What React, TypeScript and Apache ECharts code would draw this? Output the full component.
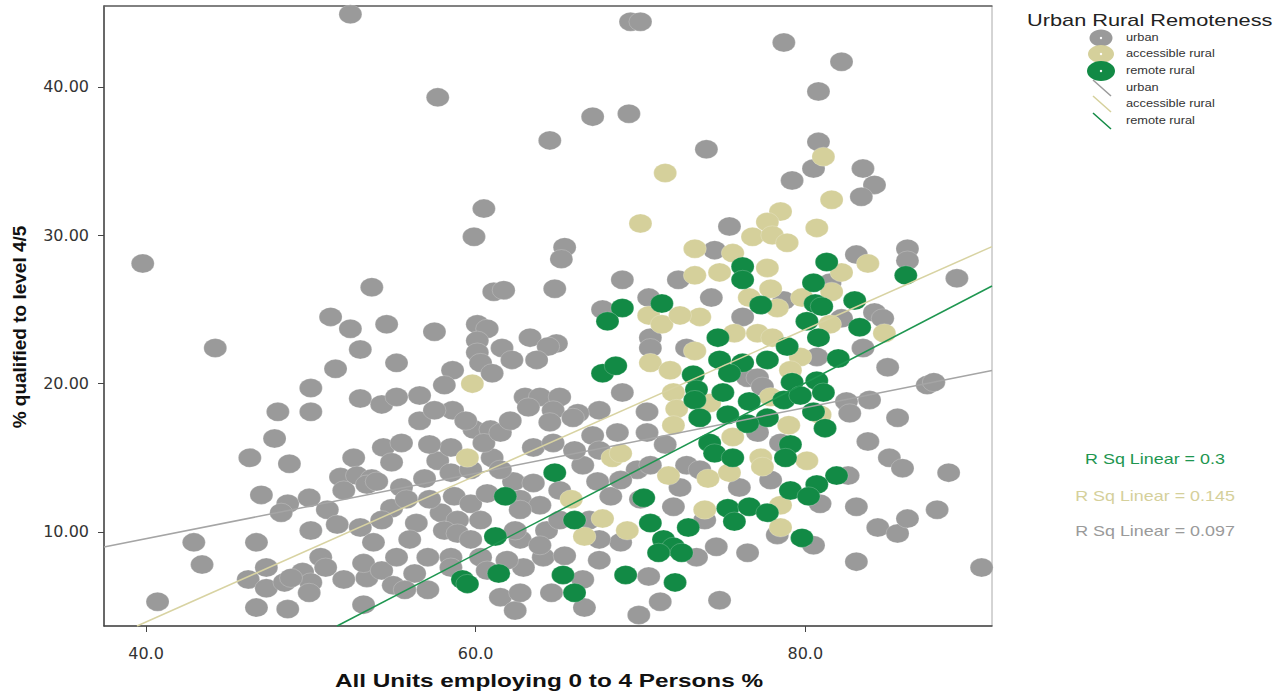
import React, { useEffect, useRef } from "react";
import * as echarts from "echarts";

const urban: number[][] = [
  [52.4, 44.9], [69.4, 44.4], [70.0, 44.4], [78.7, 43.0], [82.2, 41.7], [80.8, 39.7], [57.7, 39.3], [69.3, 38.2],
  [67.1, 38.0], [64.5, 36.4], [74.0, 35.8], [80.8, 36.3], [80.5, 34.5], [79.2, 33.7], [83.5, 34.5], [84.2, 33.4],
  [83.4, 32.6], [60.5, 31.8], [59.9, 29.9], [65.4, 29.2], [65.2, 28.4], [39.8, 28.1], [53.7, 26.5], [64.8, 26.4],
  [61.1, 26.2], [61.7, 26.3], [68.9, 27.0], [72.3, 27.0], [70.5, 25.8], [67.7, 25.0], [51.2, 24.5], [52.4, 23.7],
  [54.6, 24.0], [57.5, 23.5], [60.1, 24.0], [60.7, 23.7], [60.1, 22.9], [63.3, 23.1], [64.9, 22.7], [64.4, 22.5],
  [61.6, 22.4], [62.2, 21.6], [60.1, 22.1], [60.3, 21.4], [63.7, 21.6], [58.6, 20.9], [61.0, 20.7], [44.2, 22.4],
  [53.0, 22.3], [51.5, 21.0], [55.2, 21.4], [50.0, 19.7], [53.0, 19.0], [54.3, 18.6], [55.2, 19.1], [70.6, 23.1],
  [70.6, 22.4], [72.8, 22.4], [68.9, 19.4], [67.5, 18.2], [70.4, 18.1], [58.6, 18.2], [63.0, 19.1], [63.9, 19.1],
  [65.1, 19.1], [63.2, 18.4], [64.7, 18.2], [66.2, 18.0],
  [75.4, 30.6], [74.5, 29.0], [86.2, 29.1], [86.2, 28.3], [83.1, 28.7], [89.2, 27.1], [81.5, 26.8], [74.3, 25.8],
  [78.7, 25.6], [84.2, 24.8], [84.7, 24.4], [76.2, 24.5], [82.2, 24.4], [83.5, 22.4], [80.7, 21.8], [85.0, 21.1],
  [76.5, 20.4], [77.1, 20.4], [77.4, 19.8], [87.4, 19.9], [87.8, 20.1], [83.9, 18.9], [82.5, 18.8], [85.6, 17.7],
  [82.7, 18.0],
  [48.0, 18.1], [50.0, 18.1], [47.8, 16.3], [46.3, 15.0], [48.7, 14.6], [52.6, 15.0], [54.4, 15.7], [55.5, 16.0],
  [54.9, 14.7], [59.9, 16.9], [60.9, 16.9], [57.7, 14.8], [58.5, 15.7], [58.5, 14.0], [61.0, 15.0], [60.5, 16.0],
  [51.8, 13.7], [52.8, 13.8], [53.7, 13.6], [52.0, 12.8], [53.4, 13.2], [54.0, 13.4], [56.9, 13.6], [55.5, 13.0],
  [47.0, 12.5], [48.6, 11.9], [49.9, 12.3], [48.2, 11.3], [51.0, 11.5], [54.9, 11.6], [55.8, 12.2], [58.7, 12.4],
  [59.7, 11.9], [60.7, 12.6], [57.9, 11.3], [58.9, 10.8], [50.0, 10.1], [51.6, 10.5], [53.0, 10.3], [54.3, 10.8],
  [56.4, 10.6], [58.1, 10.1], [58.9, 9.9], [42.9, 9.3], [46.7, 9.3], [53.8, 9.3], [43.4, 7.8], [47.3, 7.6],
  [50.6, 8.3], [50.9, 7.6], [49.5, 7.3], [50.0, 6.6], [49.9, 5.9], [46.2, 6.8], [47.3, 6.2], [48.4, 6.6],
  [48.8, 6.9], [52.0, 6.8], [53.4, 6.9], [53.2, 7.9], [54.3, 7.4], [55.2, 8.3], [56.3, 7.2], [57.1, 8.3],
  [55.0, 6.4], [55.7, 6.1], [57.1, 6.1], [58.5, 8.3], [58.5, 7.6], [60.3, 8.3], [60.7, 7.4], [61.5, 5.6],
  [40.7, 5.3], [46.7, 4.9], [48.6, 4.8], [53.2, 5.1],
  [64.5, 17.4], [65.9, 17.7], [77.1, 16.7], [83.8, 16.1], [67.1, 16.5], [68.6, 16.7], [70.4, 16.7], [61.5, 16.7],
  [63.5, 15.7], [64.7, 16.0], [78.5, 16.0], [85.1, 15.0], [85.9, 14.3], [88.7, 14.0], [82.6, 13.8], [66.5, 14.5],
  [62.3, 13.4], [63.5, 13.3], [69.8, 14.2], [70.6, 14.5], [72.8, 14.5], [67.4, 13.4], [72.4, 13.0], [76.0, 13.0],
  [68.2, 12.4], [83.1, 11.7], [88.0, 11.5], [80.9, 11.9], [72.0, 11.7], [84.4, 10.3], [85.6, 9.9], [86.2, 10.9],
  [64.3, 10.1], [68.8, 9.3], [73.4, 8.3], [74.6, 9.0], [76.5, 8.6], [78.3, 9.8], [80.5, 9.1], [83.1, 8.0],
  [90.7, 7.6], [66.5, 6.8], [66.6, 4.9], [64.6, 5.9], [62.4, 4.7], [70.5, 7.0], [71.2, 5.3], [74.8, 5.4],
  [69.9, 4.4], [62.7, 5.9], [62.9, 7.6], [64.1, 8.3], [61.9, 8.1],
  [56.6, 17.5], [59.4, 17.5], [62.1, 17.5], [57.2, 15.9], [59.7, 14.2], [61.5, 14.2], [62.7, 12.2], [63.9, 11.8],
  [57.2, 12.2], [59.7, 9.5], [62.7, 9.5], [56.0, 9.5], [60.3, 10.8], [65.1, 10.8], [65.4, 8.4], [66.9, 10.8],
  [67.5, 9.5], [65.1, 12.8], [66.0, 15.5], [68.8, 13.5], [70.0, 12.2], [71.5, 15.9], [67.5, 8.1], [62.7, 11.5],
  [62.4, 10.1], [63.9, 9.1], [57.5, 18.2], [56.6, 19.2], [58.1, 19.9], [67.5, 15.5], [73.9, 10.8], [77.9, 13.5],
  [73.6, 14.2],
];

const accessibleRural: number[][] = [
  [59.5, 15.0], [59.8, 20.0], [70.0, 30.8], [71.5, 34.2], [81.1, 35.3], [81.6, 32.4], [78.5, 31.6], [77.7, 30.9],
  [80.7, 30.5], [76.8, 29.9], [78.0, 30.0], [78.9, 29.5], [73.3, 29.1], [75.6, 28.8], [83.8, 28.1], [82.2, 27.5],
  [77.7, 27.8], [73.3, 27.3], [74.8, 27.5], [77.9, 26.4], [81.6, 26.2], [78.3, 25.1], [79.8, 25.8], [76.6, 25.8],
  [73.6, 24.5], [81.5, 24.0], [84.8, 23.4], [75.7, 23.4], [77.1, 23.4], [78.0, 23.1], [73.3, 22.2], [79.7, 21.8],
  [79.1, 20.9], [74.2, 18.7], [77.9, 19.1], [70.5, 24.6], [71.3, 24.0], [72.4, 24.6], [70.6, 21.4], [71.8, 20.9],
  [72.0, 19.4], [72.2, 18.3], [72.0, 17.2], [80.9, 17.9], [79.0, 17.2], [75.6, 16.4], [68.3, 15.0], [68.8, 15.3],
  [80.1, 14.8], [77.3, 15.0], [77.4, 14.4], [71.7, 13.8], [74.1, 13.6], [75.4, 14.0], [65.8, 12.2], [78.5, 11.8],
  [73.9, 11.5], [67.7, 10.9], [78.5, 10.3], [69.2, 10.1], [66.6, 9.7],
];

const remoteRural: number[][] = [
  [71.3, 25.4], [68.9, 25.1], [68.0, 24.2], [67.7, 20.7], [68.5, 21.2], [73.2, 20.6], [73.4, 19.6], [73.3, 18.9],
  [73.6, 17.7], [81.3, 28.2], [76.2, 27.9], [76.2, 27.0], [86.1, 27.3], [80.5, 26.8], [77.3, 25.3], [80.6, 25.4],
  [81.0, 25.2], [83.0, 25.6], [80.1, 24.2], [83.3, 23.8], [74.7, 23.1], [80.8, 23.1], [78.9, 22.5], [74.8, 21.6],
  [76.2, 21.4], [77.7, 21.6], [82.0, 21.7], [75.4, 20.7], [79.2, 20.1], [80.7, 20.2], [75.0, 19.4], [76.6, 18.8],
  [78.7, 18.9], [79.7, 19.2], [81.1, 19.4], [75.3, 17.9], [80.5, 18.1], [77.7, 17.7], [76.5, 17.3], [81.2, 17.0],
  [74.2, 16.0], [74.5, 15.3], [75.6, 15.0], [79.1, 15.9], [78.8, 15.0], [81.9, 13.8], [64.8, 14.0], [80.7, 13.2],
  [79.1, 12.8], [80.2, 12.4], [61.8, 12.4], [70.2, 12.3], [75.3, 11.6], [76.6, 11.7], [77.7, 11.3], [66.0, 10.8],
  [75.7, 10.7], [70.6, 10.6], [72.9, 10.3], [61.2, 9.7], [71.4, 9.5], [72.0, 9.0], [71.1, 8.6], [72.5, 8.6],
  [79.8, 9.6], [61.4, 7.2], [65.3, 7.1], [66.0, 5.9], [69.1, 7.1], [72.1, 6.6], [59.2, 6.8], [59.5, 6.5],
];

// fit lines (end points)
const urbanFit: number[][] = [[37.45, 8.98], [91.33, 20.88]];
const accessibleFit: number[][] = [[39.45, 3.66], [91.33, 29.24]];
const remoteFit: number[][] = [[51.59, 3.66], [91.33, 26.58]];

const xTicks = [40, 60, 80];
const yTicks = [10, 20, 30, 40];
const groupNames = ["urban", "accessible rural", "remote rural"];
const rSqLabels = ["R Sq Linear = 0.3", "R Sq Linear = 0.145", "R Sq Linear = 0.097"];

const GRAY = "#9a9a9a";
const BEIGE = "#d5d09b";
const GREEN = "#128a45";
const ELLIPSE = "path://M1,0A1,1,0,1,1,-1,0A1,1,0,1,1,1,0Z";
const SX = 1.28;

export default function App() {
  const ref = useRef<HTMLDivElement>(null);
  useEffect(() => {
    if (!ref.current) return;
    const chart = echarts.init(ref.current, undefined, { renderer: "svg" });
    const scatter = (name: string, data: number[][], color: string) => ({
      name,
      type: "scatter",
      data,
      symbol: ELLIPSE,
      symbolSize: [23, 19],
      itemStyle: { color, borderColor: "rgba(255,255,255,0.35)", borderWidth: 0.6, opacity: 1 },
      z: 2,
    });
    const fit = (name: string, data: number[][], color: string) => ({
      name,
      type: "line",
      data,
      showSymbol: false,
      symbol: "none",
      lineStyle: { color, width: 1.5 },
      z: 3,
      silent: true,
    });
    const txt = (text: string, x: number, y: number, size: number, fill: string, align: string, extra: any = {}) => ({
      type: "text",
      x,
      y,
      scaleX: extra.scaleX ?? SX,
      rotation: extra.rotation ?? 0,
      z: 10,
      style: {
        text,
        fontSize: size,
        fontFamily: "Liberation Sans, Arial, sans-serif",
        fontWeight: extra.bold ? "bold" : "normal",
        fill,
        align,
        verticalAlign: "middle",
        textAlign: align,
        textVerticalAlign: "middle",
      },
    });
    const colors = [GRAY, BEIGE, GREEN];
    const markerSizes = [[11.5, 8.5], [13, 9], [14, 10]];
    const markerY = [38, 54, 71];
    const lineY = [88, 104, 121];
    const graphics: any[] = [
      txt("Urban Rural Remoteness", 1027, 20, 17, "#222", "left"),
    ];
    groupNames.forEach((n, i) => {
      graphics.push({
        type: "ellipse",
        z: 10,
        shape: { cx: 1101, cy: markerY[i], rx: markerSizes[i][0], ry: markerSizes[i][1] },
        style: { fill: colors[i] },
      });
      graphics.push({
        type: "circle",
        z: 11,
        shape: { cx: 1101, cy: markerY[i], r: 1.2 },
        style: { fill: "#fff" },
      });
      graphics.push(txt(n, 1126, markerY[i], 10, "#333", "left"));
      graphics.push({
        type: "line",
        z: 10,
        shape: { x1: 1093, y1: lineY[i] - 8, x2: 1111, y2: lineY[i] + 8 },
        style: { stroke: colors[i], lineWidth: 1.5 },
      });
      graphics.push(txt(n, 1126, lineY[i], 10, "#333", "left"));
    });
    graphics.push(txt(rSqLabels[0], 1155, 459, 14, "#1e9650", "center"));
    graphics.push(txt(rSqLabels[1], 1155, 496, 14, BEIGE, "center"));
    graphics.push(txt(rSqLabels[2], 1155, 531, 14, GRAY, "center"));
    graphics.push(txt("All Units employing 0 to 4 Persons %", 549, 680, 19, "#111", "center", { bold: true }));
    graphics.push(
      txt("% qualified to level 4/5", 19, 327, 19, "#111", "center", { bold: true, rotation: Math.PI / 2, scaleX: 1 })
    );

    const option: any = {
      animation: false,
      backgroundColor: "#fff",
      grid: {
        left: 104,
        top: 6,
        width: 888,
        height: 620,
        show: true,
        borderColor: "#aaa",
        borderWidth: 1,
        containLabel: false,
      },
      xAxis: [
        {
          type: "value",
          min: 37.45,
          max: 91.33,
          splitLine: { show: false },
          axisLine: { show: true, onZero: false, lineStyle: { color: "#444", width: 1.5 } },
          axisTick: { show: true, length: 6, customValues: xTicks, lineStyle: { color: "#444" } },
          axisLabel: {
            customValues: xTicks,
            formatter: (v: number) => v.toFixed(1),
            fontSize: 16,
            fontFamily: "DejaVu Sans",
            color: "#333",
            margin: 19,
          },
        },
        {
          type: "value",
          position: "top",
          min: 37.45,
          max: 91.33,
          splitLine: { show: false },
          axisLine: { show: true, onZero: false, lineStyle: { color: "#666", width: 1.5 } },
          axisTick: { show: false },
          axisLabel: { show: false },
        },
      ],
      yAxis: {
        type: "value",
        min: 3.66,
        max: 45.46,
        splitLine: { show: false },
        axisLine: { show: true, onZero: false, lineStyle: { color: "#444", width: 1.5 } },
        axisTick: { show: true, length: 6, customValues: yTicks, lineStyle: { color: "#444" } },
        axisLabel: {
          customValues: yTicks,
          formatter: (v: number) => v.toFixed(2),
          fontSize: 16,
          fontFamily: "DejaVu Sans",
          color: "#333",
          margin: 15,
        },
      },
      series: [
        scatter("urban", urban, GRAY),
        scatter("accessible rural", accessibleRural, BEIGE),
        scatter("remote rural", remoteRural, GREEN),
        fit("urban fit", urbanFit, "#a5a5a5"),
        fit("accessible rural fit", accessibleFit, "#d8d3a2"),
        fit("remote rural fit", remoteFit, "#1e9650"),
      ],
      graphic: graphics,
    };
    chart.setOption(option);
    return () => chart.dispose();
  }, []);
  return (
    <div
      ref={ref}
      style={{ position: "absolute", left: 0, top: 0, width: 1282, height: 693, background: "#fff" }}
    />
  );
}
